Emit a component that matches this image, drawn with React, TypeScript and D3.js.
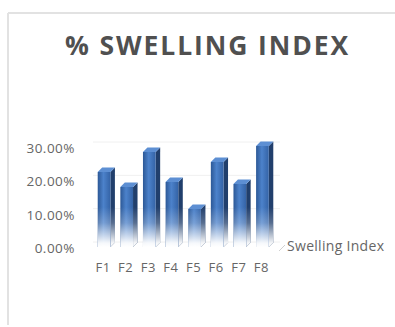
import React from "react";
import * as d3 from "d3";

const categories = ["F1", "F2", "F3", "F4", "F5", "F6", "F7", "F8"];
const swellingIndex = [0.228, 0.183, 0.288, 0.198, 0.117, 0.258, 0.192, 0.306];
const yTicks = [0, 0.1, 0.2, 0.3];
const seriesName = "Swelling Index";
const title = "% SWELLING INDEX";

const W = 395;
const H = 327;

export default function App() {
  const x = d3.scaleBand<string>().domain(categories).range([95, 276]).paddingInner(0.24).paddingOuter(0.12);
  const y = d3.scaleLinear().domain([0, 0.3]).range([248, 148]);
  const fmt = d3.format(".2%");
  const depth = 4.5;
  const bw = x.bandwidth() - depth;
  const font = "'Open Sans', 'DejaVu Sans', sans-serif";
  const base = y(0) - 1;

  return (
    <svg width={W} height={H} style={{ position: "absolute", left: 0, top: 0, background: "#fff" }}>
      <defs>
        <linearGradient id="front" x1="0" y1="0" x2="1" y2="0">
          <stop offset="0" stopColor="#2c5896" />
          <stop offset="0.45" stopColor="#4c82cb" />
          <stop offset="1" stopColor="#3463a6" />
        </linearGradient>
        <linearGradient id="fade" gradientUnits="userSpaceOnUse" x1="0" y1={base - 40} x2="0" y2={base}>
          <stop offset="0" stopColor="#fff" stopOpacity="0" />
          <stop offset="0.4" stopColor="#fff" stopOpacity="0.25" />
          <stop offset="0.9" stopColor="#fff" stopOpacity="0.95" />
          <stop offset="1" stopColor="#fff" stopOpacity="1" />
        </linearGradient>
      </defs>
      <rect x={0} y={0} width={W} height={H} fill="#fff" />
      {/* frame */}
      <line x1={8} y1={13} x2={W} y2={13} stroke="#e2e2e2" strokeWidth={2} />
      <line x1={8} y1={13} x2={8} y2={H - 2} stroke="#e2e2e2" strokeWidth={2} />
      {/* title */}
      <text x={207.5} y={55} textAnchor="middle" fontFamily={font} fontWeight={700} fontSize={26.5} letterSpacing={1.9} fill="#505050">
        {title}
      </text>
      {/* back wall gridlines */}
      {yTicks.map((t) => (
        <line key={t} x1={93} x2={280} y1={y(t) - 6} y2={y(t) - 6} stroke="#f0f0f0" strokeWidth={1} />
      ))}
      {/* y tick labels */}
      {yTicks.map((t) => (
        <text key={t} x={75} y={y(t) + 5} textAnchor="end" fontFamily={font} fontSize={13.5} letterSpacing={0.5} fill="#666">
          {fmt(t)}
        </text>
      ))}
      {/* bars */}
      {categories.map((c, i) => {
        const x0 = x(c)!;
        const yt = y(swellingIndex[i]);
        const yb = base;
        const h = yb - yt;
        const sidePts = `${x0 + bw},${yt} ${x0 + bw + depth},${yt - depth} ${x0 + bw + depth},${yb - depth} ${x0 + bw},${yb}`;
        const capPts = `${x0},${yt} ${x0 + depth},${yt - depth} ${x0 + bw + depth},${yt - depth} ${x0 + bw},${yt}`;
        return (
          <g key={c}>
            <polygon points={sidePts} fill="#213f6c" />
            <polygon points={sidePts} fill="url(#fade)" />
            <rect x={x0} y={yt} width={bw} height={h} fill="url(#front)" />
            <rect x={x0} y={yt} width={bw} height={h} fill="url(#fade)" />
            <polygon points={capPts} fill="#5d8fd3" />
          </g>
        );
      })}
      {/* category labels */}
      {categories.map((c) => (
        <text key={c} x={x(c)! + bw / 2 - 1} y={272} textAnchor="middle" fontFamily={font} fontSize={13} letterSpacing={0.5} fill="#666">
          {c}
        </text>
      ))}
      {/* depth axis series label */}
      <line x1={279} y1={251} x2={285} y2={245} stroke="#d0d0d0" strokeWidth={1} />
      <text x={287} y={251} fontFamily={font} fontSize={14} letterSpacing={0.3} fill="#666">
        {seriesName}
      </text>
    </svg>
  );
}
